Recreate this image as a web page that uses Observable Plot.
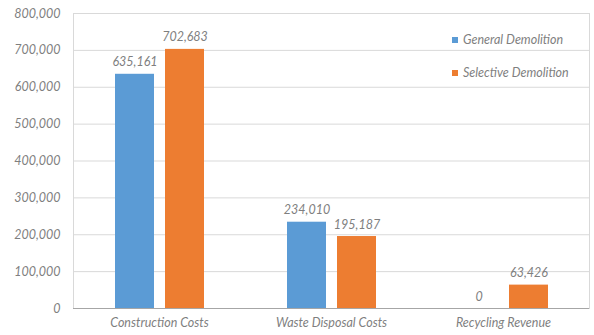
<!DOCTYPE html>
<html>
<head>
<meta charset="utf-8">
<script src="https://cdn.jsdelivr.net/npm/d3@7"></script>
<script src="https://cdn.jsdelivr.net/npm/@observablehq/plot@0.6"></script>
<style>
  html, body { margin: 0; padding: 0; background: #fff; }
  #wrap { position: relative; width: 594px; height: 335px; font-family: Lato, "Open Sans", sans-serif; }
  .legend { position: absolute; left: 452px; top: 31px; font-style: italic; font-size: 12.5px; color: #7f7f7f; }
  .legend div { display: flex; align-items: center; height: 17px; margin-bottom: 16px; }
  .legend span.sw { display: inline-block; width: 6px; height: 6px; margin-right: 5px; }
</style>
</head>
<body>
<div id="wrap"></div>
<script>
const categories = ["Construction Costs", "Waste Disposal Costs", "Recycling Revenue"];
const series = ["General Demolition", "Selective Demolition"];
const general = [635161, 234010, 0];
const selective = [702683, 195187, 63426];
const yTicks = [0, 100000, 200000, 300000, 400000, 500000, 600000, 700000, 800000];
const colors = ["#5B9BD5", "#ED7D31"];

const data = [];
categories.forEach((c, i) => {
  data.push({category: c, series: series[0], value: general[i]});
  data.push({category: c, series: series[1], value: selective[i]});
});
const fmt = d3.format(",");
const gray = "#7f7f7f";

const plot = Plot.plot({
  width: 594,
  height: 335,
  marginLeft: 72,
  marginRight: 4,
  marginTop: 13,
  marginBottom: 27,
  style: {fontFamily: "Lato, 'Open Sans', sans-serif", fontSize: "12.5px", color: gray, background: "#fff"},
  fx: {domain: categories, padding: 0, label: null},
  x: {domain: series, paddingInner: 0.22, paddingOuter: 0.8, axis: null},
  y: {domain: [0, 800000], label: null},
  color: {domain: series, range: colors},
  marks: [
    Plot.gridY(yTicks, {stroke: "#d9d9d9", strokeOpacity: 1}),
    Plot.frame({anchor: "left", facetAnchor: "left", stroke: "#d9d9d9", strokeOpacity: 1}),
    Plot.frame({anchor: "right", facetAnchor: "right", stroke: "#d9d9d9", strokeOpacity: 1}),
    Plot.barY(data, {fx: "category", x: "series", y: "value", fill: "series"}),
    Plot.ruleY([0], {stroke: "#a6a6a6"}),
    Plot.text(data, {fx: "category", x: "series", y: "value", text: d => fmt(d.value), dy: -8, lineAnchor: "bottom", fontStyle: "italic", fill: gray}),
    Plot.axisY(yTicks, {tickSize: 0, tickPadding: 13, tickFormat: fmt, fontStyle: "italic", fill: gray, label: null}),
    Plot.axisFx({anchor: "bottom", tickSize: 0, tickPadding: 10, fontStyle: "italic", fill: gray, label: null})
  ]
});
const wrap = document.getElementById("wrap");
wrap.appendChild(plot);

const legend = document.createElement("div");
legend.className = "legend";
series.forEach((s, i) => {
  const row = document.createElement("div");
  const sw = document.createElement("span");
  sw.className = "sw";
  sw.style.background = colors[i];
  row.appendChild(sw);
  row.appendChild(document.createTextNode(s));
  legend.appendChild(row);
});
wrap.appendChild(legend);
</script>
</body>
</html>
